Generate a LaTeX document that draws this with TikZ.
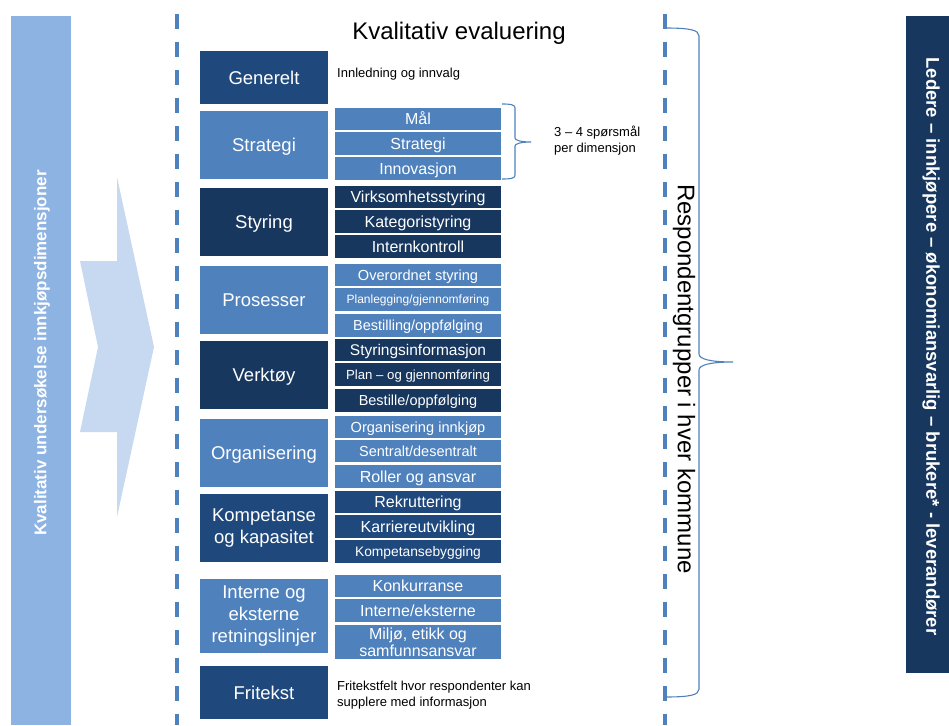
\documentclass[tikz,border=0pt]{standalone}
\usepackage{fontspec}
\setmainfont{Liberation Sans}
\definecolor{cMid}{HTML}{4F81BD}
\definecolor{cNavy}{HTML}{17375E}
\definecolor{cDark}{HTML}{1F497D}
\definecolor{cBanner}{HTML}{8DB3E2}
\definecolor{cArrow}{HTML}{C6D9F1}
\tikzset{
  big/.style={text=white, minimum width=128pt, inner sep=0pt, align=center, font=\fontsize{18.5}{22}\selectfont},
  sub/.style={text=white, minimum width=166pt, inner sep=0pt, align=center, font=\fontsize{16}{17}\selectfont},
  oneline/.style={text height=#1, text depth=0pt},
  bigone/.style={oneline=13.25pt},
  subone/.style={oneline=11.46pt},
  note/.style={anchor=west, inner sep=0pt, align=left, font=\fontsize{13}{16}\selectfont},
  dashline/.style={draw=cMid, line width=4pt, dash pattern=on 15pt off 13pt},
  bracepath/.style={draw=cMid, line width=1.1pt},
}
\begin{document}
\begin{tikzpicture}[x=1pt,y=-1pt]
\useasboundingbox (0,0) rectangle (949,725);

% left banner
\fill[cBanner] (11,16) rectangle (71,725);
\node[rotate=90, text=white, font=\bfseries\fontsize{17}{20}\selectfont, inner sep=0pt] (lb) at (42,353) {Kvalitativ undersøkelse innkjøpsdimensjoner};

% arrow
\fill[cArrow] (80,261) -- (117,261) -- (117,177) -- (154,347) -- (117,517) -- (117,432) -- (80,432) -- (98,347) -- cycle;

% dashed lines
\coordinate (d1a) at (177,14); \coordinate (d1b) at (177,725);
\coordinate (d2a) at (665,14); \coordinate (d2b) at (665,725);
\draw[dashline] (d1a) -- (d1b);
\draw[dashline] (d2a) -- (d2b);

% title
\node[font=\fontsize{24}{28}\selectfont, inner sep=0pt] (title) at (459,33) {Kvalitativ evaluering};

% big boxes
\node[big, bigone, fill=cDark, minimum height=53pt] (gen) at (264,77.5) {Generelt};
\node[big, bigone, fill=cMid,  minimum height=68pt] (str) at (264,145) {Strategi};
\node[big, bigone, fill=cNavy, minimum height=68pt] (sty) at (264,222) {Styring};
\node[big, bigone, fill=cMid,  minimum height=68pt] (pro) at (264,300) {Prosesser};
\node[big, bigone, fill=cNavy, minimum height=68pt] (ver) at (264,375) {Verktøy};
\node[big, bigone, fill=cMid,  minimum height=68pt] (org) at (264,453) {Organisering};
\node[big, fill=cDark, minimum height=68pt] (kom) at (264,528) {Kompetanse\\og kapasitet};
\node[big, fill=cMid,  minimum height=74pt] (int) at (264,616) {Interne og\\eksterne\\retningslinjer};
\node[big, bigone, fill=cDark, minimum height=53pt] (fri) at (264,692.5) {Fritekst};

% sub boxes
\node[sub, subone, fill=cMid, minimum height=22pt] (s1) at (418,119) {Mål};
\node[sub, subone, fill=cMid, minimum height=23pt] (s2) at (418,143.5) {Strategi};
\node[sub, subone, fill=cMid, minimum height=23pt] (s3) at (418,168.5) {Innovasjon};

\node[sub, subone, fill=cNavy, minimum height=22pt] (s4) at (418,197) {Virksomhetsstyring};
\node[sub, subone, fill=cNavy, minimum height=23pt] (s5) at (418,221.5) {Kategoristyring};
\node[sub, subone, fill=cNavy, minimum height=23pt] (s6) at (418,246.5) {Internkontroll};

\node[sub, fill=cMid, minimum height=22pt, font=\fontsize{14.6}{17}\selectfont, oneline=10.45pt] (s7) at (418,275) {Overordnet styring};
\node[sub, fill=cMid, minimum height=23pt, font=\fontsize{12}{14}\selectfont, oneline=8.6pt] (s8) at (418,299.5) {Planlegging/gjennomføring};
\node[sub, fill=cMid, minimum height=23pt, font=\fontsize{14.5}{17}\selectfont, oneline=10.4pt] (s9) at (418,325.5) {Bestilling/oppfølging};

\node[sub, fill=cNavy, minimum height=22pt, font=\fontsize{15.5}{17}\selectfont, oneline=11.1pt] (s10) at (418,350) {Styringsinformasjon};
\node[sub, fill=cNavy, minimum height=23pt, font=\fontsize{13.2}{15}\selectfont, oneline=9.45pt] (s11) at (418,374.5) {Plan – og gjennomføring};
\node[sub, fill=cNavy, minimum height=23pt, font=\fontsize{14.5}{17}\selectfont, oneline=10.4pt] (s12) at (418,400.5) {Bestille/oppfølging};

\node[sub, fill=cMid, minimum height=22pt, font=\fontsize{14.6}{17}\selectfont, oneline=10.45pt] (s13) at (418,427) {Organisering innkjøp};
\node[sub, fill=cMid, minimum height=22pt, font=\fontsize{14.5}{17}\selectfont, oneline=10.4pt] (s14) at (418,451) {Sentralt/desentralt};
\node[sub, subone, fill=cMid, minimum height=23pt] (s15) at (418,476.5) {Roller og ansvar};

\node[sub, subone, fill=cDark, minimum height=22pt] (s16) at (418,502) {Rekruttering};
\node[sub, subone, fill=cDark, minimum height=23pt] (s17) at (418,526.5) {Karriereutvikling};
\node[sub, fill=cDark, minimum height=23pt, font=\fontsize{13.8}{16}\selectfont, oneline=9.9pt] (s18) at (418,551.5) {Kompetansebygging};

\node[sub, subone, fill=cMid, minimum height=22pt] (s19) at (418,586) {Konkurranse};
\node[sub, subone, fill=cMid, minimum height=23pt] (s20) at (418,610.5) {Interne/eksterne};
\node[sub, fill=cMid, minimum height=34pt] (s21) at (418,642) {Miljø, etikk og\\samfunnsansvar};

% notes
\node[note] (n1) at (337,74) {Innledning og innvalg};
\node[note] (n2) at (554,141) {3 – 4 spørsmål\\per dimensjon};
\node[note] (n3) at (337,695) {Fritekstfelt hvor respondenter kan\\supplere med informasjon};

% small brace
\coordinate (sbt) at (502,104);
\coordinate (sbb) at (502,179);
\draw[bracepath] (sbt) .. controls (512,104) and (515,105) .. (515,108) -- (515,138)
  .. controls (515,140) and (520,142) .. (531,142)
  .. controls (520,142) and (515,144) .. (515,146) -- (515,175)
  .. controls (515,178) and (512,179) .. (sbb);

% large brace
\coordinate (lbt) at (665,28);
\coordinate (lbb) at (665,697);
\draw[bracepath] (lbt) .. controls (690,28) and (699,30) .. (699,36) -- (699,354)
  .. controls (699,359) and (710,362) .. (733,362)
  .. controls (710,362) and (699,365) .. (699,370) -- (699,689)
  .. controls (699,695) and (690,697) .. (lbb);

\node[rotate=-90, font=\fontsize{24}{28}\selectfont, inner sep=0pt] (resp) at (684,379) {Respondentgrupper i hver kommune};

% right banner
\fill[cNavy] (906,16) rectangle (949,673);
\node[rotate=-90, text=white, font=\bfseries\fontsize{18.5}{22}\selectfont, inner sep=0pt] (rb) at (931,346.5) {Ledere – innkjøpere – økonomiansvarlig – brukere* - leverandører};
\end{tikzpicture}
\end{document}
